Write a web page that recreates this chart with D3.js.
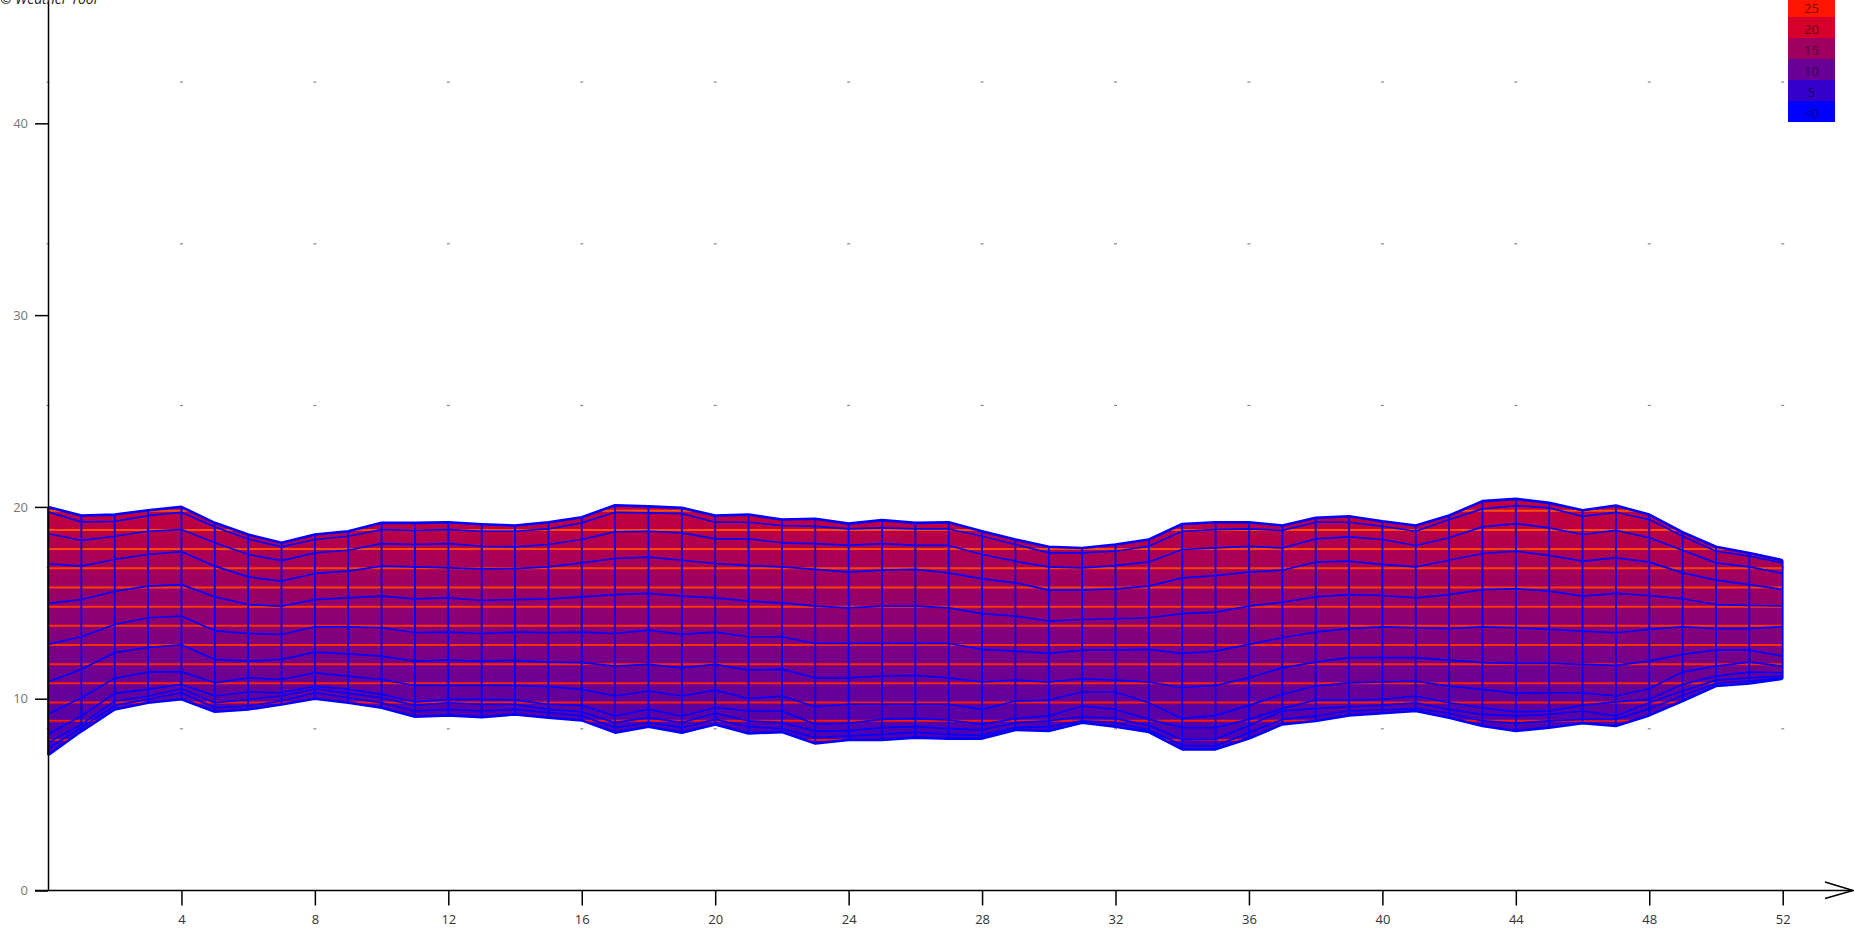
<!DOCTYPE html>
<html>
<head>
<meta charset="utf-8">
<script src="https://cdn.jsdelivr.net/npm/d3@7"></script>
<style>
  body { margin: 0; background: #fff; }
  svg { display: block; }
  text { font-family: "Open Sans", "Noto Sans", sans-serif; }
</style>
</head>
<body>
<svg id="chart" width="1854" height="929"></svg>
<script>
// weeks of the year, plotted 0..52
const weeks = d3.range(0, 53);

// band curves, top (max) to bottom (min), one value per week
const s0 = [20.0, 19.55, 19.6, 19.83, 20.0, 19.17, 18.56, 18.13, 18.56, 18.73, 19.17, 19.17, 19.2, 19.1, 19.03, 19.2, 19.46, 20.09, 20.03, 19.95, 19.55, 19.6, 19.34, 19.38, 19.13, 19.31, 19.17, 19.2, 18.73, 18.3, 17.92, 17.86, 18.04, 18.3, 19.11, 19.2, 19.2, 19.03, 19.43, 19.51, 19.25, 19.03, 19.55, 20.3, 20.42, 20.21, 19.83, 20.07, 19.6, 18.68, 17.92, 17.6, 17.22];
const s1 = [19.74, 19.22, 19.25, 19.55, 19.72, 18.96, 18.33, 17.92, 18.3, 18.47, 18.82, 18.78, 18.82, 18.73, 18.73, 18.85, 19.17, 19.72, 19.69, 19.65, 19.2, 19.2, 19.03, 18.99, 18.85, 18.91, 18.85, 18.85, 18.47, 18.04, 17.6, 17.6, 17.69, 17.95, 18.73, 18.82, 18.85, 18.78, 19.2, 19.2, 18.99, 18.73, 19.34, 19.9, 20.07, 19.95, 19.51, 19.72, 19.34, 18.47, 17.69, 17.43, 17.08];
const s2 = [18.6, 18.26, 18.47, 18.73, 18.82, 18.13, 17.52, 17.2, 17.6, 17.74, 18.09, 18.04, 18.09, 17.95, 17.92, 18.04, 18.3, 18.7, 18.73, 18.65, 18.33, 18.33, 18.13, 18.09, 17.99, 18.09, 17.99, 17.99, 17.52, 17.17, 16.87, 16.82, 16.94, 17.13, 17.78, 17.86, 17.95, 17.86, 18.33, 18.44, 18.3, 17.99, 18.39, 18.96, 19.13, 18.91, 18.56, 18.78, 18.39, 17.74, 17.08, 16.87, 16.53];
const s3 = [17.03, 16.91, 17.26, 17.52, 17.67, 16.91, 16.35, 16.13, 16.53, 16.65, 16.91, 16.87, 16.82, 16.77, 16.78, 16.87, 17.08, 17.31, 17.38, 17.22, 17.05, 16.94, 16.87, 16.74, 16.6, 16.7, 16.74, 16.56, 16.25, 16.04, 15.66, 15.66, 15.73, 15.87, 16.3, 16.42, 16.6, 16.7, 17.12, 17.17, 17.0, 16.87, 17.22, 17.57, 17.69, 17.47, 17.17, 17.34, 17.12, 16.56, 16.18, 15.95, 15.69];
const s4 = [14.97, 15.17, 15.6, 15.87, 15.95, 15.31, 14.91, 14.83, 15.17, 15.26, 15.35, 15.21, 15.26, 15.12, 15.17, 15.21, 15.31, 15.43, 15.49, 15.35, 15.26, 15.09, 15.0, 14.83, 14.74, 14.83, 14.83, 14.74, 14.44, 14.31, 14.05, 14.13, 14.17, 14.22, 14.44, 14.51, 14.83, 15.03, 15.31, 15.43, 15.38, 15.26, 15.43, 15.69, 15.73, 15.61, 15.35, 15.49, 15.38, 15.21, 14.91, 14.86, 14.83];
const s5 = [12.83, 13.23, 13.87, 14.22, 14.31, 13.54, 13.4, 13.35, 13.75, 13.75, 13.7, 13.44, 13.47, 13.4, 13.47, 13.44, 13.47, 13.4, 13.58, 13.35, 13.47, 13.23, 13.23, 12.88, 12.88, 12.88, 12.88, 12.88, 12.57, 12.48, 12.36, 12.53, 12.53, 12.57, 12.36, 12.48, 12.83, 13.18, 13.47, 13.65, 13.75, 13.7, 13.65, 13.75, 13.7, 13.61, 13.52, 13.44, 13.61, 13.75, 13.65, 13.65, 13.75];
const s6 = [10.87, 11.53, 12.4, 12.67, 12.81, 12.05, 11.96, 12.05, 12.43, 12.34, 12.22, 11.96, 12.01, 11.96, 12.0, 11.91, 11.88, 11.7, 11.79, 11.61, 11.79, 11.49, 11.53, 11.09, 11.09, 11.18, 11.21, 11.09, 10.87, 10.97, 10.87, 11.04, 10.97, 10.87, 10.57, 10.69, 11.09, 11.61, 11.91, 12.14, 12.14, 12.14, 12.01, 11.88, 11.84, 11.84, 11.79, 11.74, 11.96, 12.31, 12.53, 12.53, 12.22];
const s7 = [9.19, 10.05, 11.06, 11.39, 11.41, 10.83, 11.09, 11.0, 11.35, 11.18, 11.0, 10.69, 10.69, 10.69, 10.69, 10.63, 10.49, 10.14, 10.4, 10.14, 10.45, 10.0, 10.14, 9.58, 9.71, 9.71, 9.71, 9.71, 9.44, 9.88, 9.93, 10.35, 10.35, 9.79, 8.96, 9.13, 9.65, 10.23, 10.66, 10.83, 10.87, 10.92, 10.66, 10.49, 10.28, 10.31, 10.31, 10.14, 10.52, 11.39, 11.7, 11.91, 11.7];
const s8 = [8.15, 9.1, 10.28, 10.49, 10.75, 10.14, 10.35, 10.31, 10.66, 10.49, 10.23, 9.83, 9.97, 9.97, 9.93, 9.71, 9.65, 9.1, 9.44, 9.1, 9.53, 9.36, 9.36, 8.66, 8.72, 8.92, 8.96, 8.89, 8.66, 8.96, 9.1, 9.62, 9.44, 8.92, 8.49, 8.49, 8.92, 9.48, 9.93, 9.93, 9.97, 10.14, 9.79, 9.53, 9.31, 9.36, 9.65, 9.83, 9.97, 10.75, 11.18, 11.39, 11.35];
const s9 = [7.71, 8.66, 9.88, 10.14, 10.52, 9.79, 9.97, 10.14, 10.52, 10.28, 10.05, 9.65, 9.79, 9.7, 9.7, 9.44, 9.31, 8.75, 9.01, 8.75, 9.24, 8.84, 8.75, 8.32, 8.32, 8.49, 8.54, 8.44, 8.37, 8.75, 8.84, 9.06, 8.96, 8.61, 7.85, 7.88, 8.61, 9.36, 9.48, 9.58, 9.65, 9.79, 9.44, 9.18, 9.1, 9.18, 9.36, 9.1, 9.79, 10.4, 10.97, 11.09, 11.18];
const s10 = [7.4, 8.5, 9.65, 9.97, 10.31, 9.53, 9.62, 9.88, 10.31, 10.05, 9.79, 9.36, 9.44, 9.36, 9.44, 9.27, 9.1, 8.49, 8.75, 8.49, 8.92, 8.54, 8.44, 7.97, 8.06, 8.14, 8.26, 8.14, 8.09, 8.49, 8.54, 8.84, 8.75, 8.37, 7.57, 7.53, 8.23, 8.92, 9.1, 9.36, 9.41, 9.48, 9.24, 8.84, 8.72, 8.84, 8.92, 8.92, 9.48, 10.17, 10.8, 10.92, 11.09];
const s11 = [7.05, 8.3, 9.44, 9.79, 9.97, 9.32, 9.44, 9.7, 10.0, 9.79, 9.53, 9.06, 9.13, 9.04, 9.18, 9.01, 8.87, 8.23, 8.54, 8.23, 8.66, 8.19, 8.26, 7.67, 7.85, 7.85, 7.97, 7.92, 7.92, 8.37, 8.32, 8.75, 8.54, 8.26, 7.36, 7.36, 7.92, 8.66, 8.84, 9.13, 9.24, 9.36, 9.01, 8.58, 8.32, 8.49, 8.72, 8.58, 9.13, 9.88, 10.66, 10.8, 11.04];
const series = [s0, s1, s2, s3, s4, s5, s6, s7, s8, s9, s10, s11];

// horizontal level lines drawn inside the band
const levels = [19.8, 18.8, 17.8, 16.8, 15.8, 14.8, 13.8, 12.8, 11.8, 10.8, 9.8, 8.85, 7.85];

const xTicks = d3.range(4, 53, 4);
const yTicks = [0, 10, 20, 30, 40];
const gridWeeks = d3.range(0, 53, 4);
const gridLevels = [8.43, 16.86, 25.29, 33.72, 42.15];

const legendValues = [25, 20, 15, 10, 5, 0];
const legendLabels = ["25", "20", "15", "10", "5", "<0"];

const svg = d3.select("#chart");
const x = d3.scaleLinear().domain([0, 52]).range([48, 1782.7]);
const y = d3.scaleLinear().domain([0, 46.43]).range([890.5, 0]);
// legend colours
const color = d3.scaleLinear().domain([0, 24, 30]).range(["#0000ff", "#ff0000", "#ff8000"]);
// band fill colours (slightly bluer than the legend)
const fill = d3.scaleLinear().domain([0, 26]).range(["#0000ff", "#ff0000"]);
const levelColor = d3.scaleLinear().domain([8, 20]).range(["#ff1400", "#ff5000"]);

// vertical colour gradient following the value scale
const defs = svg.append("defs");
const grad = defs.append("linearGradient")
  .attr("id", "bandFill")
  .attr("gradientUnits", "userSpaceOnUse")
  .attr("x1", 0).attr("x2", 0)
  .attr("y1", y(0)).attr("y2", y(26));
[0, 26].forEach(v => {
  grad.append("stop").attr("offset", v / 26).attr("stop-color", fill(v));
});

const area = d3.area()
  .x(i => x(weeks[i]))
  .y0(i => y(s11[i]))
  .y1(i => y(s0[i]));

defs.append("clipPath").attr("id", "bandClip")
  .append("path").attr("d", area(d3.range(weeks.length)));

// grid dots
const grid = svg.append("g");
gridLevels.forEach(lv => {
  grid.selectAll(null).data(gridWeeks).enter().append("rect")
    .attr("x", d => x(d) - 1.5)
    .attr("y", y(lv) - 0.6)
    .attr("width", 3).attr("height", 1.2)
    .attr("fill", "#8a8a8a");
});

// band
svg.append("path")
  .attr("d", area(d3.range(weeks.length)))
  .attr("fill", "url(#bandFill)");

// level lines, clipped to the band
svg.append("g").attr("clip-path", "url(#bandClip)")
  .selectAll("line").data(levels).enter().append("line")
  .attr("x1", x(0)).attr("x2", x(52))
  .attr("y1", d => y(d)).attr("y2", d => y(d))
  .attr("stroke", d => levelColor(d))
  .attr("stroke-width", 2);

// weekly vertical mesh lines
svg.append("g").selectAll("line").data(weeks).enter().append("line")
  .attr("x1", d => x(d)).attr("x2", d => x(d))
  .attr("y1", (d, i) => y(s11[i])).attr("y2", (d, i) => y(s0[i]))
  .attr("stroke", "#0000ff")
  .attr("stroke-width", 1.8);

// band curves
const line = d3.line().x((d, i) => x(weeks[i])).y(d => y(d));
svg.append("g").selectAll("path").data(series).enter().append("path")
  .attr("d", d => line(d))
  .attr("fill", "none")
  .attr("stroke", "#0000ff")
  .attr("stroke-width", (d, i) => (i === 0 || i === series.length - 1) ? 2.6 : 1.7)
  .attr("stroke-linejoin", "round");

// x axis
const xAxis = svg.append("g")
  .attr("transform", `translate(0,${y(0)})`)
  .call(d3.axisBottom(x).tickValues(xTicks).tickSize(15).tickSizeOuter(0).tickPadding(9));
xAxis.select(".domain").remove();
xAxis.selectAll(".tick line").attr("stroke", "#000").attr("stroke-width", 1.5);
xAxis.selectAll(".tick text")
  .attr("fill", "#333").style("font-size", "13px");

svg.append("line")
  .attr("x1", 35).attr("x2", 1853)
  .attr("y1", y(0)).attr("y2", y(0))
  .attr("stroke", "#000").attr("stroke-width", 1.5);
svg.append("path")
  .attr("d", `M1825,${y(0) - 8.5}L1853,${y(0)}L1825,${y(0) + 8}`)
  .attr("fill", "none").attr("stroke", "#000").attr("stroke-width", 1.5);

// y axis
const yAxis = svg.append("g")
  .attr("transform", `translate(${x(0)},0)`)
  .call(d3.axisLeft(y).tickValues(yTicks).tickSize(13).tickSizeOuter(0).tickPadding(7));
yAxis.select(".domain").attr("stroke", "#000").attr("stroke-width", 1.5);
yAxis.selectAll(".tick line").attr("stroke", "#000").attr("stroke-width", 1.5);
yAxis.selectAll(".tick text")
  .attr("fill", "#777").style("font-size", "13px");

// legend
const legend = svg.append("g");
legend.selectAll("rect").data(legendValues).enter().append("rect")
  .attr("x", 1788).attr("width", 47)
  .attr("y", (d, i) => 122 - (legendValues.length - i) * 21)
  .attr("height", 21)
  .attr("fill", d => color(d));
legend.selectAll("text").data(legendLabels).enter().append("text")
  .attr("x", 1811.5)
  .attr("y", (d, i) => 122 - (legendValues.length - i) * 21 + 12)
  .attr("text-anchor", "middle")
  .attr("dominant-baseline", "central")
  .attr("fill", "rgba(0,0,0,0.55)")
  .style("font-size", "13px")
  .text(d => d);

// credit
svg.append("text")
  .attr("x", 0).attr("y", 3.5)
  .style("font-size", "14px")
  .style("font-style", "italic")
  .attr("fill", "#222")
  .text("© Weather Tool");
</script>
</body>
</html>
